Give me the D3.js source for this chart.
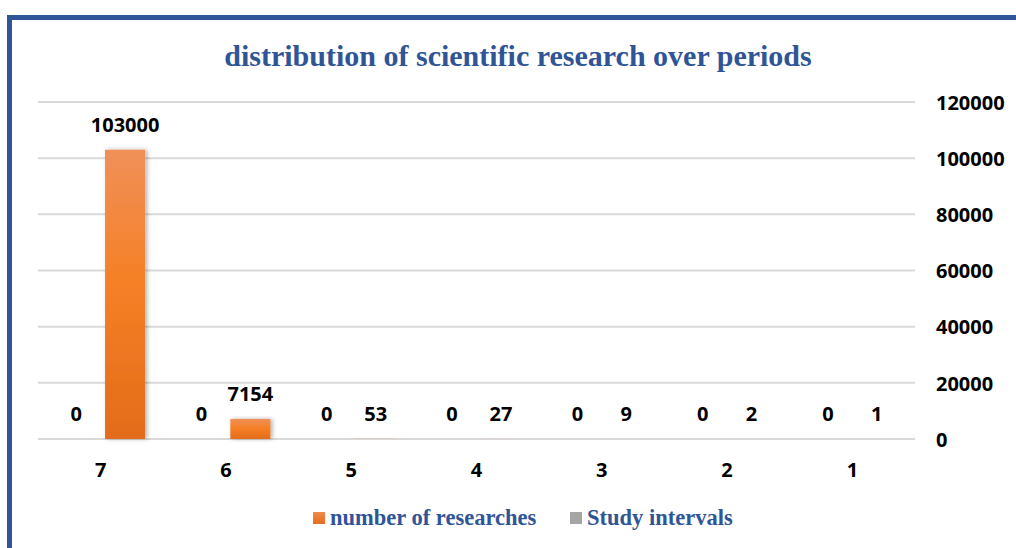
<!DOCTYPE html>
<html>
<head>
<meta charset="utf-8">
<script src="https://cdn.jsdelivr.net/npm/d3@7"></script>
<style>
    body { margin: 0; background: #fff; }
    .axis text { font-family: "Open Sans", sans-serif; font-weight: 700; font-size: 20px; fill: #000; }
    .data_label { font-family: "Open Sans", sans-serif; font-weight: 700; font-size: 20px; fill: #000; }
    .chart_title { font-family: "Liberation Serif", "Times New Roman", serif; font-weight: 700; font-size: 30px; fill: #2F5597; }
    .legend_text { font-family: "Liberation Serif", "Times New Roman", serif; font-weight: 700; font-size: 22.5px; fill: #2F5597; }
</style>
</head>
<body>
<svg id="chart" width="1016" height="548"></svg>
<script>
// data
var periods = ["7", "6", "5", "4", "3", "2", "1"];
var researches = [103000, 7154, 53, 27, 9, 2, 1];
var intervals = [0, 0, 0, 0, 0, 0, 0];
var yTicks = [0, 20000, 40000, 60000, 80000, 100000, 120000];
var seriesNames = ["Study intervals", "number of researches"];
var legendOrder = ["number of researches", "Study intervals"];

var width = 1016, height = 548;
var plot = { left: 38, right: 915, top: 102, bottom: 439 };

var svg = d3.select("#chart");

svg.append("rect")
    .attr("width", width)
    .attr("height", height)
    .attr("fill", "#fff");

// gradients + shadow
var defs = svg.append("defs");
var og = defs.append("linearGradient")
    .attr("id", "orangeGrad")
    .attr("x1", 0).attr("y1", 0).attr("x2", 0).attr("y2", 1);
og.append("stop").attr("offset", "0%").attr("stop-color", "#F09059");
og.append("stop").attr("offset", "45%").attr("stop-color", "#F58026");
og.append("stop").attr("offset", "100%").attr("stop-color", "#E36C1A");

var gg = defs.append("linearGradient")
    .attr("id", "grayGrad")
    .attr("x1", 0).attr("y1", 0).attr("x2", 0).attr("y2", 1);
gg.append("stop").attr("offset", "0%").attr("stop-color", "#B4B4B4");
gg.append("stop").attr("offset", "100%").attr("stop-color", "#979797");

var og2 = defs.append("linearGradient")
    .attr("id", "orangeLegend")
    .attr("x1", 0).attr("y1", 0).attr("x2", 0).attr("y2", 1);
og2.append("stop").attr("offset", "0%").attr("stop-color", "#F08A4C");
og2.append("stop").attr("offset", "100%").attr("stop-color", "#E66D1C");

var shadow = defs.append("filter")
    .attr("id", "barShadow")
    .attr("x", "-30%").attr("y", "-10%")
    .attr("width", "160%").attr("height", "120%");
shadow.append("feDropShadow")
    .attr("dx", 2).attr("dy", 0)
    .attr("stdDeviation", 2)
    .attr("flood-color", "#000")
    .attr("flood-opacity", 0.3);

var colors = { "Study intervals": "url(#grayGrad)", "number of researches": "url(#orangeGrad)" };
var legendColors = { "Study intervals": "#A5A5A5", "number of researches": "url(#orangeLegend)" };

// scales
var xScale = d3.scaleBand()
    .domain(periods)
    .range([plot.left, plot.right]);

var xInner = d3.scaleBand()
    .domain(seriesNames)
    .range([-44.5, 44.5])
    .paddingInner(0.18);

var yScale = d3.scaleLinear()
    .domain([0, 120000])
    .range([plot.bottom, plot.top]);

// gridlines
svg.append("g")
    .attr("class", "grid")
    .selectAll("line")
    .data(yTicks)
    .enter().append("line")
    .attr("x1", plot.left)
    .attr("x2", plot.right)
    .attr("y1", function(d) { return yScale(d); })
    .attr("y2", function(d) { return yScale(d); })
    .attr("stroke", "#D9D9D9")
    .attr("stroke-width", 2);

// right axis
var yAxis = svg.append("g")
    .attr("class", "axis axis--y")
    .attr("transform", "translate(" + plot.right + ",0)")
    .call(d3.axisRight(yScale).tickValues(yTicks).tickFormat(d3.format("d")).tickSize(0).tickPadding(21));
yAxis.select(".domain").remove();
yAxis.selectAll(".tick text").attr("dy", "0.36em");

// x axis
var xAxis = svg.append("g")
    .attr("class", "axis axis--x")
    .attr("transform", "translate(0," + plot.bottom + ")")
    .call(d3.axisBottom(xScale).tickSize(0).tickPadding(24));
xAxis.select(".domain").remove();

// bars
var rows = periods.map(function(p, i) {
    return [
        { period: p, series: "Study intervals", value: intervals[i] },
        { period: p, series: "number of researches", value: researches[i] }
    ];
});

var groups = svg.append("g")
    .attr("class", "bars")
    .selectAll("g")
    .data(rows)
    .enter().append("g")
    .attr("transform", function(d) {
        return "translate(" + (xScale(d[0].period) + xScale.bandwidth() / 2) + ",0)";
    });

groups.selectAll("rect")
    .data(function(d) { return d; })
    .enter().append("rect")
    .attr("x", function(d) { return xInner(d.series); })
    .attr("width", xInner.bandwidth())
    .attr("y", function(d) { return yScale(d.value); })
    .attr("height", function(d) { return yScale(0) - yScale(d.value); })
    .attr("fill", function(d) { return colors[d.series]; })
    .attr("filter", "url(#barShadow)");

groups.selectAll("text")
    .data(function(d) { return d; })
    .enter().append("text")
    .attr("class", "data_label")
    .attr("text-anchor", "middle")
    .attr("x", function(d) { return xInner(d.series) + xInner.bandwidth() / 2; })
    .attr("y", function(d) { return yScale(d.value) - 18; })
    .text(function(d) { return d.value; });

// title
svg.append("text")
    .attr("class", "chart_title")
    .attr("x", 518)
    .attr("y", 66)
    .attr("text-anchor", "middle")
    .text("distribution of scientific research over periods");

// legend
var legendX = [313, 570];
var legend = svg.append("g").attr("class", "legend");
legend.selectAll("rect")
    .data(legendOrder)
    .enter().append("rect")
    .attr("x", function(d, i) { return legendX[i]; })
    .attr("y", 512)
    .attr("width", 12)
    .attr("height", 12)
    .attr("fill", function(d) { return legendColors[d]; });
legend.selectAll("text")
    .data(legendOrder)
    .enter().append("text")
    .attr("class", "legend_text")
    .attr("x", function(d, i) { return legendX[i] + 17; })
    .attr("y", 525)
    .text(function(d) { return d; });

// frame
svg.append("path")
    .attr("d", "M9.5," + (height + 10) + "V17.5H" + (width + 10))
    .attr("fill", "none")
    .attr("stroke", "#2F5597")
    .attr("stroke-width", 5);
</script>
</body>
</html>
